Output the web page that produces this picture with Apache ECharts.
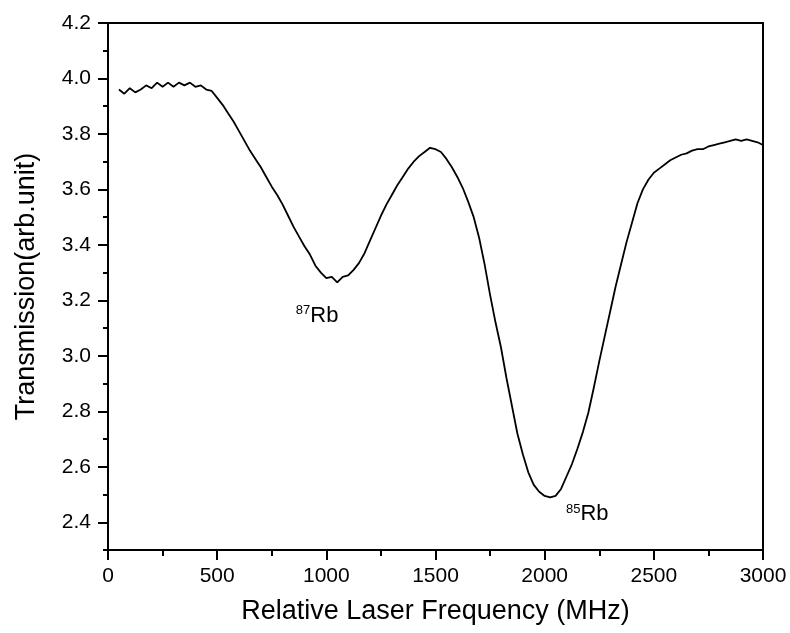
<!DOCTYPE html>
<html>
<head>
<meta charset="utf-8">
<script src="https://cdn.jsdelivr.net/npm/echarts@6/dist/echarts.min.js"></script>
<style>
html,body{margin:0;padding:0;background:#fff;}
#chart{width:790px;height:633px;}
</style>
</head>
<body>
<div id="chart"></div>
<script>
// Frequency (MHz)
const freq = [
  50,75,100,125,150,175,200,225,250,275,300,325,350,375,400,425,450,475,
  500,525,550,575,600,625,650,675,700,725,750,775,800,825,850,875,900,925,950,975,
  1000,1025,1050,1075,1100,1125,1150,1175,1200,1225,1250,1275,1300,1325,1350,1375,
  1400,1425,1450,1475,1500,1525,1550,1575,1600,1625,1650,1675,1700,1725,1750,1775,
  1800,1825,1850,1875,1900,1925,1950,1975,2000,2025,2050,2075,2100,2125,2150,2175,
  2200,2225,2250,2275,2300,2325,2350,2375,2400,2425,2450,2475,2500,2525,2550,2575,
  2600,2625,2650,2675,2700,2725,2750,2775,2800,2825,2850,2875,2900,2925,2950,2975,3000
];
// Transmission (arb. unit)
const transmission = [
  3.96,3.945,3.965,3.95,3.96,3.975,3.965,3.985,3.97,3.985,3.97,3.985,3.975,3.985,3.97,3.975,3.96,3.955,
  3.93,3.905,3.875,3.845,3.81,3.775,3.74,3.71,3.68,3.645,3.61,3.58,3.545,3.505,3.465,3.43,3.395,3.365,3.325,3.30,
  3.28,3.285,3.265,3.285,3.29,3.31,3.335,3.37,3.415,3.46,3.505,3.545,3.58,3.615,3.645,3.675,
  3.70,3.72,3.735,3.75,3.745,3.735,3.71,3.68,3.645,3.605,3.555,3.50,3.425,3.33,3.22,3.12,
  3.03,2.92,2.82,2.72,2.645,2.58,2.535,2.51,2.495,2.49,2.495,2.52,2.565,2.61,2.665,2.725,
  2.795,2.885,2.98,3.07,3.16,3.25,3.33,3.41,3.48,3.55,3.60,3.635,3.66,3.675,3.69,3.705,
  3.715,3.725,3.73,3.74,3.745,3.745,3.755,3.76,3.765,3.77,3.775,3.78,3.775,3.78,3.775,3.77,3.76
];
const yTickLabels = [2.4,2.6,2.8,3.0,3.2,3.4,3.6,3.8,4.0,4.2];
const xTickLabels = [0,500,1000,1500,2000,2500,3000];
const annotations = [
  {iso:'87', name:'Rb', at:[958, 3.145]},
  {iso:'85', name:'Rb', at:[2195, 2.43]}
];

const chart = echarts.init(document.getElementById('chart'));
const font = 'Liberation Sans, Arial, sans-serif';
chart.setOption({
  backgroundColor:'#fff',
  animation:false,
  grid:{left:108,right:27,top:23,bottom:83,show:true,borderColor:'#000',borderWidth:2,backgroundColor:'transparent'},
  xAxis:[{
    type:'value', min:0, max:3000, interval:500,
    name:'Relative Laser Frequency (MHz)', nameLocation:'middle', nameGap:48,
    nameTextStyle:{fontFamily:font,fontSize:27,color:'#000'},
    axisLine:{show:true,onZero:false,lineStyle:{color:'#000',width:2}},
    axisTick:{show:true,inside:false,length:10,lineStyle:{color:'#000',width:2},customValues:xTickLabels},
    minorTick:{show:true,splitNumber:2,length:6,lineStyle:{color:'#000',width:2}},
    axisLabel:{fontFamily:font,fontSize:21,color:'#000',margin:16,customValues:xTickLabels,
      formatter:v=>String(Math.round(v))},
    splitLine:{show:false}
  }],
  yAxis:[{
    type:'value', min:2.3, max:4.2,
    name:'Transmission(arb.unit)', nameLocation:'middle', nameGap:68,
    nameTextStyle:{fontFamily:font,fontSize:27,color:'#000'},
    axisLine:{show:true,onZero:false,lineStyle:{color:'#000',width:2}},
    axisTick:{show:true,inside:false,length:10,lineStyle:{color:'#000',width:2},customValues:yTickLabels},
    axisLabel:{fontFamily:font,fontSize:21,color:'#000',margin:17,customValues:yTickLabels,
      formatter:v=>Number(v).toFixed(1)},
    splitLine:{show:false}
  },{
    type:'value', min:2.3, max:4.2, interval:0.1, position:'left',
    axisLine:{show:false},
    axisTick:{show:true,inside:false,length:5,lineStyle:{color:'#000',width:2}},
    axisLabel:{show:false},
    splitLine:{show:false}
  }],
  series:[{
    type:'line',
    data:freq.map((f,i)=>[f,transmission[i]]),
    showSymbol:false,
    lineStyle:{color:'#000',width:1.8},
    markPoint:{
      symbol:'circle', symbolSize:0,
      data:annotations.map(a=>({coord:a.at, value:a.iso,
        label:{show:true, position:'inside', formatter:'{s|'+a.iso+'}{b|'+a.name+'}',
          rich:{
            s:{fontFamily:font,fontSize:13,color:'#000',padding:[0,0,10,0]},
            b:{fontFamily:font,fontSize:22,color:'#000'}
          }}}))
    }
  }]
});
</script>
</body>
</html>
